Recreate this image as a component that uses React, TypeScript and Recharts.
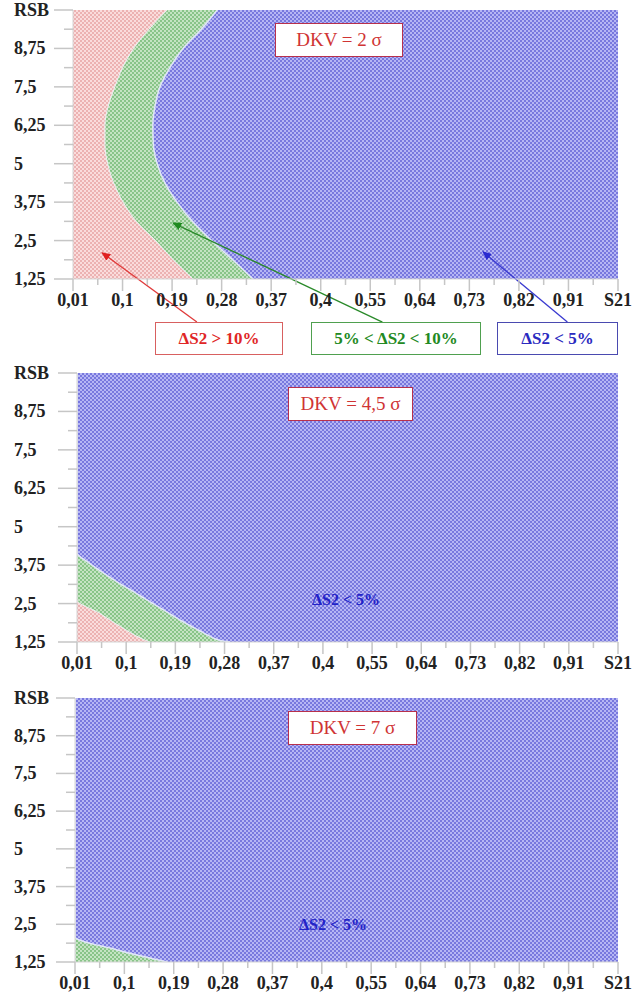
import React from 'react';
import { ComposedChart, Area, XAxis, YAxis, ReferenceLine } from 'recharts';

// axis ticks (S21 on x, RSB on y)
const xTicks = [0.01, 0.1, 0.19, 0.28, 0.37, 0.46, 0.55, 0.64, 0.73, 0.82, 0.91, 1.0];
const xLabels = ['0,01', '0,1', '0,19', '0,28', '0,37', '0,4', '0,55', '0,64', '0,73', '0,82', '0,91', 'S21'];
const yTicks = [1.25, 2.5, 3.75, 5, 6.25, 7.5, 8.75, 10];
const yLabels = ['1,25', '2,5', '3,75', '5', '6,25', '7,5', '8,75', 'RSB'];

// DKV = 2 sigma : region edges (S21 value where each zone stops) per RSB
const rsb1 = [1.25, 1.875, 2.5, 3.125, 3.75, 4.375, 5, 5.625, 6.25, 6.875, 7.5, 8.125, 8.75, 9.375, 10];
const red1 = [0.228, 0.192, 0.16, 0.125, 0.101, 0.084, 0.073, 0.068, 0.068, 0.074, 0.086, 0.1, 0.12, 0.148, 0.181];
const green1 = [0.337, 0.3, 0.262, 0.227, 0.199, 0.177, 0.163, 0.156, 0.155, 0.159, 0.168, 0.186, 0.21, 0.243, 0.272];
const blue1 = [1, 1, 1, 1, 1, 1, 1, 1, 1, 1, 1, 1, 1, 1, 1];

// DKV = 4,5 sigma
const rsb2 = [1.25, 1.3, 1.45, 1.64, 1.9, 2.19, 2.62, 2.85, 3.2, 3.5, 3.85, 4.15, 10];
const red2 = [0.143, 0.136, 0.118, 0.1, 0.076, 0.051, 0.01, 0.01, 0.01, 0.01, 0.01, 0.01, 0.01];
const green2 = [0.29, 0.272, 0.252, 0.232, 0.205, 0.178, 0.138, 0.117, 0.084, 0.058, 0.03, 0.01, 0.01];
const blue2 = [1, 1, 1, 1, 1, 1, 1, 1, 1, 1, 1, 1, 1];

// DKV = 7 sigma
const rsb3 = [1.25, 1.65, 2.09, 10];
const red3 = [0.01, 0.01, 0.01, 0.01];
const green3 = [0.178, 0.087, 0.01, 0.01];
const blue3 = [1, 1, 1, 1];

// arrows in panel 1: [fromS21, fromRSB, toS21, toRSB]
const arrowRed = [0.235, -0.15, 0.063, 2.1];
const arrowGreen = [0.572, -0.15, 0.192, 3.07];
const arrowBlue = [0.908, -0.15, 0.755, 2.13];

const FONT = '"Liberation Serif", "Times New Roman", serif';

const xAllTicks = xTicks.flatMap((v, i) => (i < xTicks.length - 1 ? [v, (v + xTicks[i + 1]) / 2] : [v]));
const yAllTicks = yTicks.flatMap((v, i) => (i < yTicks.length - 1 ? [v, (v + yTicks[i + 1]) / 2] : [v]));

const findIdx = (arr: number[], v: number) => arr.findIndex((a) => Math.abs(a - v) < 1e-6);

const XTick = (props: any) => {
  const { x, y, payload } = props;
  const i = findIdx(xTicks, payload.value);
  const major = i >= 0;
  return (
    <g>
      <line x1={x} x2={x} y1={y} y2={y + (major ? 12 : 6)} stroke="#c6c6c6" strokeWidth={1.5} />
      {major && (
        <text x={x} y={y + 21} textAnchor="middle" dominantBaseline="central" fontFamily={FONT} fontSize={18} fontWeight="bold" fill="#222">
          {xLabels[i]}
        </text>
      )}
    </g>
  );
};

const YTick = (props: any) => {
  const { x, y, payload, labelX } = props;
  const i = findIdx(yTicks, payload.value);
  const major = i >= 0;
  return (
    <g>
      <line x1={x - (major ? 19 : 9)} x2={x} y1={y} y2={y} stroke="#c6c6c6" strokeWidth={1.5} />
      {major && (
        <text x={labelX} y={y} textAnchor="start" dominantBaseline="central" fontFamily={FONT} fontSize={18} fontWeight="bold" fill="#222">
          {yLabels[i]}
        </text>
      )}
    </g>
  );
};

const Patterns = ({ id }: { id: string }) => (
  <defs>
    <pattern id={`${id}-blue`} width={4} height={4} patternUnits="userSpaceOnUse">
      <rect width={4} height={4} fill="#b6b6f4" />
      <rect width={2} height={2} fill="#7878de" />
      <rect x={2} y={2} width={2} height={2} fill="#7878de" />
    </pattern>
    <pattern id={`${id}-green`} width={4} height={4} patternUnits="userSpaceOnUse">
      <rect width={4} height={4} fill="#c4e4c2" />
      <rect width={2} height={2} fill="#88c488" />
      <rect x={2} y={2} width={2} height={2} fill="#88c488" />
    </pattern>
    <pattern id={`${id}-red`} width={4} height={4} patternUnits="userSpaceOnUse">
      <rect width={4} height={4} fill="#fadcdc" />
      <rect width={2} height={2} fill="#ecb2b2" />
      <rect x={2} y={2} width={2} height={2} fill="#ecb2b2" />
    </pattern>
    <marker id={`${id}-mr`} markerWidth={9} markerHeight={8} refX={8} refY={4} orient="auto" markerUnits="userSpaceOnUse">
      <path d="M0,0 L9,4 L0,8 z" fill="#e02020" />
    </marker>
    <marker id={`${id}-mg`} markerWidth={9} markerHeight={8} refX={8} refY={4} orient="auto" markerUnits="userSpaceOnUse">
      <path d="M0,0 L9,4 L0,8 z" fill="#1f8a1f" />
    </marker>
    <marker id={`${id}-mb`} markerWidth={9} markerHeight={8} refX={8} refY={4} orient="auto" markerUnits="userSpaceOnUse">
      <path d="M0,0 L9,4 L0,8 z" fill="#2a2ad0" />
    </marker>
  </defs>
);

interface PanelProps {
  id: string;
  rsb: number[];
  red: number[];
  green: number[];
  blue: number[];
  top: number;
  height: number;
  left: number;
  marginBottom: number;
  arrows?: boolean;
}

const arrowLine = (a: number[], color: string, marker: string, key: string) => (
  <ReferenceLine
    key={key}
    segment={[{ x: a[0], y: a[1] }, { x: a[2], y: a[3] }]}
    ifOverflow="visible"
    stroke={color}
    strokeWidth={1.3}
    shape={(p: any) => (
      <line x1={p.x1} y1={p.y1} x2={p.x2} y2={p.y2} stroke={color} strokeWidth={1.3} markerEnd={`url(#${marker})`} />
    )}
  />
);

const Panel = ({ id, rsb, red, green, blue, top, height, left, marginBottom, arrows }: PanelProps) => {
  const rows = rsb.map((r, i) => ({ rsb: r, red: red[i], green: green[i], blue: blue[i] }));
  return (
    <div style={{ position: 'absolute', left: 0, top }}>
      <ComposedChart
        width={635}
        height={height}
        data={rows}
        layout="vertical"
        margin={{ top: 10, right: 17, bottom: marginBottom, left: 0 }}
        style={{ overflow: 'visible' }}
      >
        <Patterns id={id} />
        <XAxis
          type="number"
          dataKey="blue"
          domain={[0.01, 1]}
          ticks={xAllTicks}
          interval={0}
          height={30}
          tickSize={0}
          tickMargin={0}
          tick={XTick}
          axisLine={{ stroke: '#d4d4d4' }}
          allowDataOverflow
        />
        <YAxis
          type="number"
          dataKey="rsb"
          domain={[1.25, 10]}
          ticks={yAllTicks}
          interval={0}
          width={left}
          tickSize={0}
          tickMargin={0}
          reversed
          tick={(p: any) => <YTick {...p} labelX={14} />}
          axisLine={{ stroke: '#d4d4d4' }}
          allowDataOverflow
        />
        <Area dataKey="blue" type="linear" fill={`url(#${id}-blue)`} fillOpacity={1} stroke="none" isAnimationActive={false} />
        <Area dataKey="green" type="monotone" fill={`url(#${id}-green)`} fillOpacity={1} stroke="#dfe5f7" strokeWidth={1.5} isAnimationActive={false} />
        <Area dataKey="red" type="monotone" fill={`url(#${id}-red)`} fillOpacity={1} stroke="#eef0f4" strokeWidth={1} isAnimationActive={false} />
        {arrows && arrowLine(arrowRed, '#e03a3a', `${id}-mr`, 'ar')}
        {arrows && arrowLine(arrowGreen, '#2a8a2a', `${id}-mg`, 'ag')}
        {arrows && arrowLine(arrowBlue, '#3a3ad0', `${id}-mb`, 'ab')}
      </ComposedChart>
    </div>
  );
};

const Box = ({ left, top, width, height, border, color, text, size, bold }: any) => (
  <div
    style={{
      position: 'absolute',
      left,
      top,
      width,
      height,
      boxSizing: 'border-box',
      border: `1.5px solid ${border}`,
      background: '#fff',
      color,
      fontFamily: FONT,
      fontSize: size,
      fontWeight: bold ? 'bold' : 'normal',
      display: 'flex',
      alignItems: 'center',
      justifyContent: 'center',
      whiteSpace: 'nowrap',
    }}
  >
    {text}
  </div>
);

const Note = ({ cx, cy, text }: any) => (
  <div
    style={{
      position: 'absolute',
      left: cx - 60,
      top: cy - 10,
      width: 120,
      height: 20,
      textAlign: 'center',
      lineHeight: '20px',
      fontFamily: FONT,
      fontSize: 16,
      fontWeight: 'bold',
      color: '#2222c8',
    }}
  >
    {text}
  </div>
);

export default function App() {
  return (
    <div style={{ position: 'absolute', left: 0, top: 0, width: 635, height: 993, background: '#fff' }}>
      <Panel id="p1" rsb={rsb1} red={red1} green={green1} blue={blue1} top={0} height={360} left={73} marginBottom={51} arrows />
      <Panel id="p2" rsb={rsb2} red={red2} green={green2} blue={blue2} top={363} height={314} left={77} marginBottom={5} />
      <Panel id="p3" rsb={rsb3} red={red3} green={green3} blue={blue3} top={688} height={305} left={75} marginBottom={1} />

      <Box left={275} top={23} width={128} height={34} border="#b8304c" color="#d03434" text="DKV = 2 σ" size={19} />
      <Box left={288} top={387} width={125} height={34} border="#b8304c" color="#d03434" text="DKV = 4,5 σ" size={19} />
      <Box left={288} top={711} width={129} height={34} border="#b8304c" color="#d03434" text="DKV = 7 σ" size={19} />

      <Box left={155} top={322} width={128} height={33} border="#d86060" color="#e02626" text="ΔS2 > 10%" size={17} bold />
      <Box left={311} top={322} width={170} height={33} border="#4fa04f" color="#238a23" text="5% < ΔS2 < 10%" size={17} bold />
      <Box left={497} top={322} width={121} height={33} border="#4a4ab0" color="#2a2ac0" text="ΔS2 < 5%" size={17} bold />

      <Note cx={346} cy={600} text="ΔS2 < 5%" />
      <Note cx={333} cy={925} text="ΔS2 < 5%" />
    </div>
  );
}
